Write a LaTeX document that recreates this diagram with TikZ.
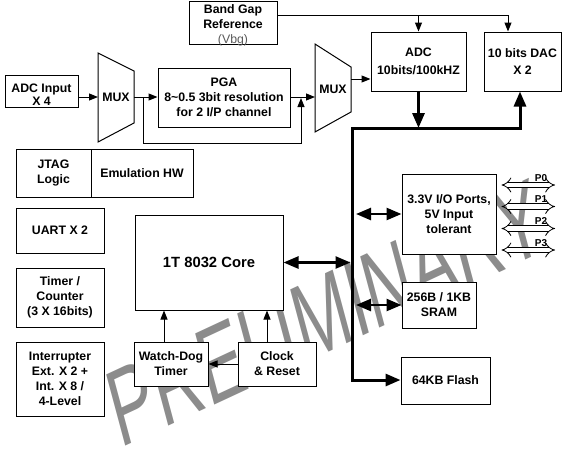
\documentclass[tikz,border=0pt]{standalone}
\usepackage{fontspec}
\setmainfont{Liberation Sans}
\usetikzlibrary{arrows.meta}
\definecolor{wm}{RGB}{140,140,140}
\definecolor{vbg}{RGB}{90,90,90}
\tikzset{bth/.tip={Triangle[length=15pt,width=12pt]}}
\begin{document}
\begin{tikzpicture}[x=1pt,y=-1pt,
  box/.style={draw, fill=white, line width=1pt, inner sep=0pt, align=center,
    font=\fontsize{12.3}{15}\selectfont\bfseries},
  txt/.style={inner sep=0pt, align=center, font=\fontsize{12.3}{15}\selectfont\bfseries},
  plab/.style={inner sep=0pt, font=\fontsize{10}{12}\selectfont\bfseries},
  ln/.style={line width=1pt},
  arr/.style={line width=1pt, -{Triangle[length=9pt,width=7pt]}},
  bus/.style={line width=3pt, line join=miter},
  dbl/.style={line width=2.5pt, {bth}-{bth}},
  port/.style={double, double distance=4.5pt, line width=0.8pt, {Implies}-{Implies}},
  wmk/.style={text=wm, inner sep=0pt, font=\fontsize{105}{105}\selectfont,
    cm={0.605,0.282,-0.264,0.985,(0,0)}}
]
\useasboundingbox (0,0) rectangle (565,459);
% watermark
\node[wmk] (wmark) at (326,313) {PRELIMINARY};

% boxes
\node[box, minimum width=88pt, minimum height=43pt] (bg) at (233,22.5) {};
\node[txt] (bgt) at (233,25) {Band Gap\\Reference\\{\mdseries\color{vbg}(Vbg)}};
\node[box, minimum width=73pt, minimum height=32pt] (adcin) at (41.5,91) {};
\node[txt, font=\fontsize{12.3}{13}\selectfont\bfseries] (adcint) at (41.5,95) {ADC Input\\X 4};
\node[box, minimum width=132pt, minimum height=59pt] (pga) at (224,97.5) {PGA\\8\textasciitilde0.5 3bit resolution\\for 2 I/P channel};
\node[box, minimum width=95pt, minimum height=59pt, font=\fontsize{12.3}{17.5}\selectfont\bfseries] (adc) at (418.5,61.5) {ADC\\10bits/100kHZ};
\node[box, minimum width=77pt, minimum height=59pt, font=\fontsize{12.3}{17.5}\selectfont\bfseries] (dac) at (522.5,61.5) {10 bits DAC\\X 2};
\node[box, minimum width=75pt, minimum height=48pt] (jtag) at (53.5,173) {JTAG\\Logic};
\node[box, minimum width=102pt, minimum height=48pt] (emu) at (142,173) {Emulation HW};
\node[box, minimum width=88pt, minimum height=45pt] (uart) at (60,230.5) {UART X 2};
\node[box, minimum width=88pt, minimum height=59pt] (timer) at (60,297.5) {Timer /\\Counter\\(3 X 16bits)};
\node[box, minimum width=88pt, minimum height=74pt] (intr) at (60,379) {Interrupter\\Ext. X 2 +\\Int. X 8 /\\4-Level};
\node[box, minimum width=148pt, minimum height=95pt, font=\fontsize{14.8}{17}\selectfont\bfseries] (core) at (209,262.5) {1T 8032 Core};
\node[box, minimum width=74pt, minimum height=44pt] (wd) at (171,364) {Watch-Dog\\Timer};
\node[box, minimum width=78pt, minimum height=44pt] (clk) at (277,364) {Clock\\\& Reset};
\node[box, minimum width=94pt, minimum height=80pt] (io) at (449,214) {3.3V I/O Ports,\\5V Input\\tolerant};
\node[box, minimum width=74pt, minimum height=46pt] (sram) at (439,305) {256B / 1KB\\SRAM};
\node[box, minimum width=89pt, minimum height=47pt] (flash) at (445.5,380.5) {64KB Flash};

% MUX shapes
\draw[ln, fill=white, line join=miter] (98,53) -- (134,71) -- (134,123) -- (98,142) -- cycle;
\node[txt] (mux1) at (116,97.5) {MUX};
\draw[ln, fill=white, line join=miter] (315,44) -- (351,67) -- (351,112) -- (315,132) -- cycle;
\node[txt] (mux2) at (333,89) {MUX};
\coordinate (m1in) at (98,97);
\coordinate (m1out) at (134,97);
\coordinate (m2in) at (315,97);
\coordinate (m2out) at (351,79);

% band gap lines
\coordinate (bgy) at (0,15);
\draw[arr] (bg.east |- bgy) -| ([xshift=-14.5pt]dac.north);
\draw[arr] (adc.north |- bgy) -- (adc.north);

% signal path
\draw[arr] (adcin.east |- m1in) -- (m1in);
\draw[arr] (m1out) -- (pga.west |- m1out);
\draw[arr] (pga.east |- m2in) -- (m2in);
\draw[arr] (m2out) -- (adc.west |- m2out);
\coordinate (fb1) at (143,97);
\coordinate (fb2) at (301,143);
\draw[arr] (fb1) |- (fb2) -- ([yshift=-1pt]fb2 |- m2in);

% bus
\coordinate (bustop) at (352,128);
\coordinate (busbot) at (352,380);
\draw[bus, -{bth}] (adc.south) -- (adc.south |- bustop);
\draw[bus, {bth}-{bth}] (flash.west |- busbot) -- (busbot) -- (bustop) -| ([xshift=-2.5pt]dac.south);
\draw[dbl, shorten <=4pt] (io.west -| bustop) -- (io.west);
\draw[dbl, shorten <=4pt] (sram.west -| bustop) -- (sram.west);
\draw[dbl, shorten >=1.5pt] (core.east) -- (core.east -| bustop);

% ports
\coordinate (p0) at (555,185);
\coordinate (p1) at (555,206.5);
\coordinate (p2) at (555,228.5);
\coordinate (p3) at (555,250);
\draw[port, shorten <=5pt] (io.east |- p0) -- (p0);
\draw[port, shorten <=5pt] (io.east |- p1) -- (p1);
\draw[port, shorten <=5pt] (io.east |- p2) -- (p2);
\draw[port, shorten <=5pt] (io.east |- p3) -- (p3);
\node[plab] (lp0) at (541,178) {P0};
\node[plab] (lp1) at (541,199.5) {P1};
\node[plab] (lp2) at (541,221.5) {P2};
\node[plab] (lp3) at (541,243) {P3};

% lower arrows
\draw[arr] (clk.west) -- (wd.east);
\draw[arr] ([xshift=-7pt]wd.north) -- ([xshift=-7pt]wd.north |- core.south);
\draw[arr] ([xshift=-10pt]clk.north) -- ([xshift=-10pt]clk.north |- core.south);
\end{tikzpicture}
\end{document}
